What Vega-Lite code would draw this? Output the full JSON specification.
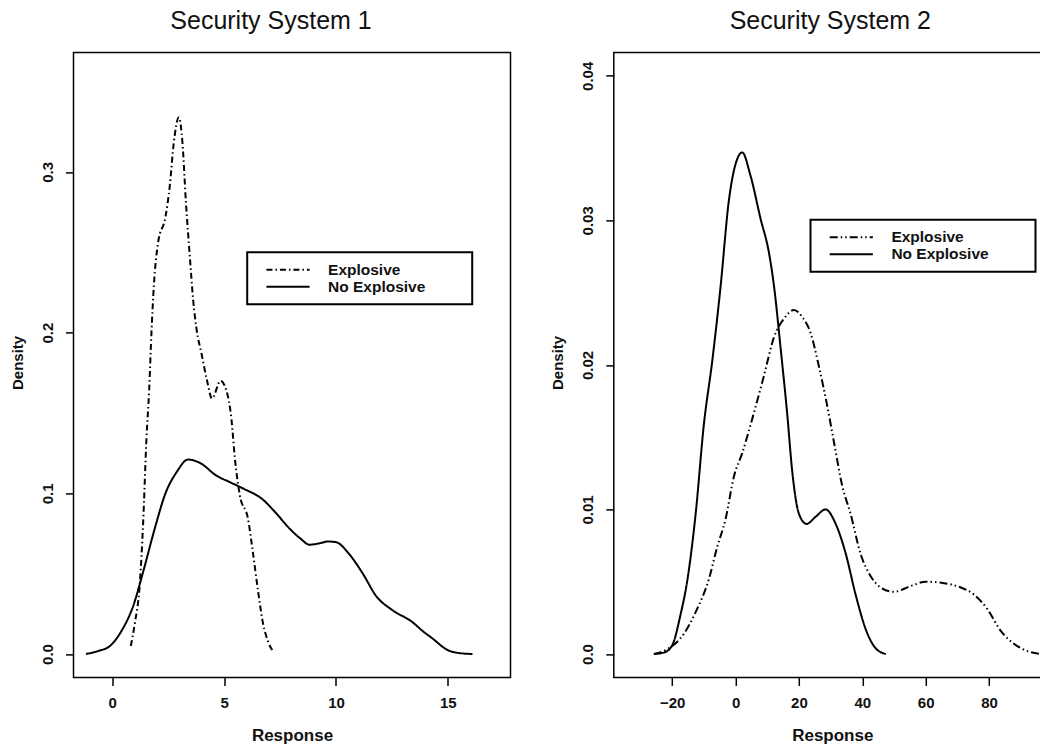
{
  "$schema": "https://vega.github.io/schema/vega-lite/v6.json",
  "padding": {"left": 9.5, "top": 7.4, "right": -12, "bottom": 0},
  "bounds": "flush",
  "spacing": 103.3,
  "background": "white",
  "datasets": {
    "s1": [
      {"group": "Explosive", "response": 0.83, "density": 0.005},
      {"group": "Explosive", "response": 1.01, "density": 0.019},
      {"group": "Explosive", "response": 1.24, "density": 0.045},
      {"group": "Explosive", "response": 1.38, "density": 0.081},
      {"group": "Explosive", "response": 1.53, "density": 0.134},
      {"group": "Explosive", "response": 1.65, "density": 0.164},
      {"group": "Explosive", "response": 1.76, "density": 0.202},
      {"group": "Explosive", "response": 1.86, "density": 0.229},
      {"group": "Explosive", "response": 2.05, "density": 0.256},
      {"group": "Explosive", "response": 2.38, "density": 0.272},
      {"group": "Explosive", "response": 2.57, "density": 0.291},
      {"group": "Explosive", "response": 2.75, "density": 0.318},
      {"group": "Explosive", "response": 2.98, "density": 0.334},
      {"group": "Explosive", "response": 3.14, "density": 0.318},
      {"group": "Explosive", "response": 3.29, "density": 0.282},
      {"group": "Explosive", "response": 3.47, "density": 0.247},
      {"group": "Explosive", "response": 3.62, "density": 0.22},
      {"group": "Explosive", "response": 3.77, "density": 0.202},
      {"group": "Explosive", "response": 3.99, "density": 0.187},
      {"group": "Explosive", "response": 4.24, "density": 0.17},
      {"group": "Explosive", "response": 4.46, "density": 0.159},
      {"group": "Explosive", "response": 4.84, "density": 0.17},
      {"group": "Explosive", "response": 5.1, "density": 0.164},
      {"group": "Explosive", "response": 5.33, "density": 0.146},
      {"group": "Explosive", "response": 5.48, "density": 0.122},
      {"group": "Explosive", "response": 5.7, "density": 0.099},
      {"group": "Explosive", "response": 6.07, "density": 0.084},
      {"group": "Explosive", "response": 6.29, "density": 0.063},
      {"group": "Explosive", "response": 6.52, "density": 0.039},
      {"group": "Explosive", "response": 6.74, "density": 0.019},
      {"group": "Explosive", "response": 6.96, "density": 0.008},
      {"group": "Explosive", "response": 7.19, "density": 0.0015},
      {"group": "No Explosive", "response": -1.17, "density": 0.0},
      {"group": "No Explosive", "response": -0.6, "density": 0.002},
      {"group": "No Explosive", "response": -0.1, "density": 0.005},
      {"group": "No Explosive", "response": 0.4, "density": 0.014},
      {"group": "No Explosive", "response": 0.94, "density": 0.03},
      {"group": "No Explosive", "response": 1.38, "density": 0.051},
      {"group": "No Explosive", "response": 1.9, "density": 0.078},
      {"group": "No Explosive", "response": 2.38, "density": 0.1},
      {"group": "No Explosive", "response": 2.87, "density": 0.113},
      {"group": "No Explosive", "response": 3.39, "density": 0.121},
      {"group": "No Explosive", "response": 3.91, "density": 0.119},
      {"group": "No Explosive", "response": 4.66, "density": 0.111},
      {"group": "No Explosive", "response": 5.25, "density": 0.107},
      {"group": "No Explosive", "response": 5.85, "density": 0.103},
      {"group": "No Explosive", "response": 6.74, "density": 0.096},
      {"group": "No Explosive", "response": 7.3, "density": 0.088},
      {"group": "No Explosive", "response": 7.93, "density": 0.078},
      {"group": "No Explosive", "response": 8.4, "density": 0.072},
      {"group": "No Explosive", "response": 8.82, "density": 0.068},
      {"group": "No Explosive", "response": 9.3, "density": 0.069},
      {"group": "No Explosive", "response": 9.64, "density": 0.07},
      {"group": "No Explosive", "response": 10.0, "density": 0.0696},
      {"group": "No Explosive", "response": 10.6, "density": 0.062},
      {"group": "No Explosive", "response": 11.2, "density": 0.05},
      {"group": "No Explosive", "response": 11.8, "density": 0.036},
      {"group": "No Explosive", "response": 12.5, "density": 0.0275},
      {"group": "No Explosive", "response": 13.4, "density": 0.02},
      {"group": "No Explosive", "response": 13.9, "density": 0.014},
      {"group": "No Explosive", "response": 14.3, "density": 0.0098},
      {"group": "No Explosive", "response": 15.0, "density": 0.0024},
      {"group": "No Explosive", "response": 15.5, "density": 0.0006},
      {"group": "No Explosive", "response": 16.1, "density": 0.0}
    ],
    "s2": [
      {"group": "Explosive", "response": -25.8, "density": 0.0},
      {"group": "Explosive", "response": -21, "density": 0.0004},
      {"group": "Explosive", "response": -16.3, "density": 0.0014},
      {"group": "Explosive", "response": -12.6, "density": 0.0029},
      {"group": "Explosive", "response": -8.4, "density": 0.0052},
      {"group": "Explosive", "response": -5.8, "density": 0.0074},
      {"group": "Explosive", "response": -3.2, "density": 0.0093},
      {"group": "Explosive", "response": -0.5, "density": 0.0123},
      {"group": "Explosive", "response": 2.1, "density": 0.0139},
      {"group": "Explosive", "response": 5.3, "density": 0.0163},
      {"group": "Explosive", "response": 8.9, "density": 0.0192},
      {"group": "Explosive", "response": 12.1, "density": 0.0219},
      {"group": "Explosive", "response": 15.3, "density": 0.0232},
      {"group": "Explosive", "response": 18.4, "density": 0.0238},
      {"group": "Explosive", "response": 21.1, "density": 0.0233},
      {"group": "Explosive", "response": 23.7, "density": 0.0222},
      {"group": "Explosive", "response": 26.3, "density": 0.0199},
      {"group": "Explosive", "response": 28.9, "density": 0.0172},
      {"group": "Explosive", "response": 31.1, "density": 0.0146},
      {"group": "Explosive", "response": 33.7, "density": 0.0116},
      {"group": "Explosive", "response": 36.3, "density": 0.0097},
      {"group": "Explosive", "response": 39.5, "density": 0.0069},
      {"group": "Explosive", "response": 42.6, "density": 0.0054},
      {"group": "Explosive", "response": 45.8, "density": 0.0046},
      {"group": "Explosive", "response": 50, "density": 0.0043},
      {"group": "Explosive", "response": 55.3, "density": 0.0047},
      {"group": "Explosive", "response": 60, "density": 0.005},
      {"group": "Explosive", "response": 65.8, "density": 0.0049},
      {"group": "Explosive", "response": 71.1, "density": 0.0046},
      {"group": "Explosive", "response": 75.3, "density": 0.0041},
      {"group": "Explosive", "response": 79.5, "density": 0.0031},
      {"group": "Explosive", "response": 83.7, "density": 0.0016},
      {"group": "Explosive", "response": 87.9, "density": 0.0007},
      {"group": "Explosive", "response": 92.1, "density": 0.0002},
      {"group": "Explosive", "response": 96.3, "density": 0.0},
      {"group": "No Explosive", "response": -25.8, "density": 0.0},
      {"group": "No Explosive", "response": -22.6, "density": 0.0001},
      {"group": "No Explosive", "response": -20, "density": 0.0006},
      {"group": "No Explosive", "response": -17.4, "density": 0.0027},
      {"group": "No Explosive", "response": -15.3, "density": 0.005},
      {"group": "No Explosive", "response": -12.6, "density": 0.0097},
      {"group": "No Explosive", "response": -10, "density": 0.0159},
      {"group": "No Explosive", "response": -7.4, "density": 0.0202},
      {"group": "No Explosive", "response": -4.7, "density": 0.0255},
      {"group": "No Explosive", "response": -2.1, "density": 0.0314},
      {"group": "No Explosive", "response": 0, "density": 0.0339},
      {"group": "No Explosive", "response": 2.1, "density": 0.0347},
      {"group": "No Explosive", "response": 4.7, "density": 0.0331},
      {"group": "No Explosive", "response": 7.9, "density": 0.0301},
      {"group": "No Explosive", "response": 10.5, "density": 0.0278},
      {"group": "No Explosive", "response": 12.1, "density": 0.0255},
      {"group": "No Explosive", "response": 14.2, "density": 0.0212},
      {"group": "No Explosive", "response": 16.3, "density": 0.0166},
      {"group": "No Explosive", "response": 17.9, "density": 0.0126},
      {"group": "No Explosive", "response": 20, "density": 0.0097},
      {"group": "No Explosive", "response": 22.4, "density": 0.009},
      {"group": "No Explosive", "response": 25.3, "density": 0.0095},
      {"group": "No Explosive", "response": 28.4, "density": 0.01},
      {"group": "No Explosive", "response": 31.6, "density": 0.009},
      {"group": "No Explosive", "response": 34.7, "density": 0.007},
      {"group": "No Explosive", "response": 37.9, "density": 0.0041},
      {"group": "No Explosive", "response": 41.1, "density": 0.0017},
      {"group": "No Explosive", "response": 44.2, "density": 0.0004},
      {"group": "No Explosive", "response": 47.4, "density": 0.0}
    ]
  },
  "config": {
    "font": "Liberation Sans",
    "view": {"stroke": "black", "strokeWidth": 1.5},
    "axis": {
      "grid": false, "domain": false, "ticks": true, "tickSize": 8, "tickColor": "black", "tickWidth": 1.5,
      "labelFont": "Liberation Sans", "labelFontWeight": "bold", "labelColor": "#111",
      "titleFont": "Liberation Sans", "titleFontWeight": "bold", "titleColor": "#111"
    },
    "axisX": {
      "labelFontSize": 15, "labelPadding": 9.8, "labelAngle": 0,
      "titleFontSize": 17, "titleBaseline": "alphabetic", "titleAlign": "center", "titleX": 218.5, "titleY": 63
    },
    "axisY": {
      "labelFontSize": 15, "labelAngle": -90, "labelAlign": "center", "labelBaseline": "bottom", "labelPadding": 10,
      "titleFontSize": 15, "titleAngle": -90, "titleBaseline": "middle", "titleAlign": "center", "titleX": -56, "titleY": 310
    },
    "title": {
      "font": "Liberation Sans", "fontSize": 25, "fontWeight": "normal", "color": "#111",
      "anchor": "middle", "baseline": "alphabetic", "offset": 18.3, "frame": "group"
    },
    "legend": {
      "strokeColor": "black", "strokeWidth": 2, "fillColor": "white", "padding": 9,
      "symbolType": "M-3,0H3M23.75,0", "symbolSize": 207, "symbolStrokeWidth": 2, "symbolStrokeColor": "black",
      "symbolOffset": 23.3, "labelOffset": 31.6, "rowPadding": 0,
      "labelFont": "Liberation Sans", "labelFontSize": 15.5, "labelFontWeight": "bold", "labelColor": "#111"
    }
  },
  "resolve": {"scale": {"strokeDash": "independent"}, "legend": {"strokeDash": "independent"}},
  "hconcat": [
    {
      "width": 437, "height": 625,
      "title": {"text": "Security System 1", "dx": -21},
      "data": {"name": "s1"},
      "mark": {"type": "line", "color": "black", "strokeWidth": 2, "interpolate": "monotone"},
      "encoding": {
        "x": {"field": "response", "type": "quantitative", "title": "Response",
              "scale": {"domain": [-1.73, 17.8], "nice": false, "zero": false},
              "axis": {"values": [0, 5, 10, 15]}},
        "y": {"field": "density", "type": "quantitative", "title": "Density",
              "scale": {"domain": [-0.01456, 0.3744], "nice": false, "zero": false},
              "axis": {"values": [0, 0.1, 0.2, 0.3], "format": ".1f"}},
        "strokeDash": {"field": "group", "type": "nominal",
              "scale": {"domain": ["Explosive", "No Explosive"], "range": [[6, 3, 1.5, 3], [1, 0]]},
              "legend": {"orient": "none", "legendX": 173.7, "legendY": 199.9, "title": null}}
      }
    },
    {
      "width": 437, "height": 625,
      "title": {"text": "Security System 2", "dx": -2},
      "data": {"name": "s2"},
      "mark": {"type": "line", "color": "black", "strokeWidth": 2, "interpolate": "monotone"},
      "encoding": {
        "x": {"field": "response", "type": "quantitative", "title": "Response",
              "scale": {"domain": [-38.44, 99.5], "nice": false, "zero": false},
              "axis": {"values": [-20, 0, 20, 40, 60, 80]}},
        "y": {"field": "density", "type": "quantitative", "title": "Density",
              "scale": {"domain": [-0.00162, 0.04162], "nice": false, "zero": false},
              "axis": {"values": [0, 0.01, 0.02, 0.03, 0.04], "labelExpr": "datum.value == 0 ? '0.0' : format(datum.value, '.2f')"}},
        "strokeDash": {"field": "group", "type": "nominal",
              "scale": {"domain": ["Explosive", "No Explosive"], "range": [[8, 3, 1.5, 3, 1.5, 3], [1, 0]]},
              "legend": {"orient": "none", "legendX": 196.7, "legendY": 167.3, "title": null}}
      }
    }
  ]
}
